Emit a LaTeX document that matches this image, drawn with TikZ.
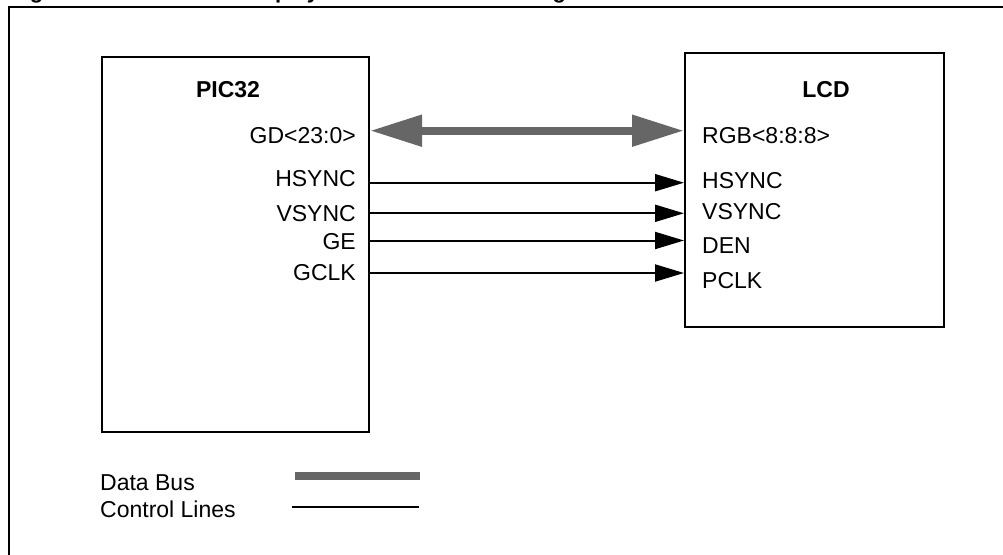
\documentclass[tikz,border=0pt]{standalone}
\usepackage{fontspec}
\setmainfont{Liberation Sans}
\usetikzlibrary{arrows.meta}
\definecolor{busgray}{HTML}{666666}
\tikzstyle{every node}=[inner sep=0pt, font=\fontsize{23}{27}\selectfont]
\tikzstyle{chip}=[draw, line width=2pt, rectangle]
\tikzstyle{chipname}=[font=\fontsize{23}{27}\selectfont\bfseries]
\tikzstyle{pinl}=[anchor=base east]
\tikzstyle{pinr}=[anchor=base west]
\tikzstyle{ctrl}=[line width=2pt, -{Triangle[length=29pt, width=17pt]}]
\tikzstyle{bus}=[busgray, line width=8pt, {Triangle[length=52pt, width=30pt]}-{Triangle[length=52pt, width=30pt]}]

\begin{document}
\begin{tikzpicture}[x=1pt, y=-1pt]
    \useasboundingbox (0,0) rectangle (1003,554);
    \clip (0,0) rectangle (1003,554);
% Title and frame (cut off)
    \node[anchor=base west, font=\fontsize{22}{26}\selectfont\bfseries] (title) at (10,-1.5) {Figure 43-2: TFT LCD Display Connection Block Diagram};
    \draw[line width=2.3pt] (1020,7.3) -- (9,7.3) -- (9,570);
% Boxes
    \node[chip, minimum width=267pt, minimum height=375pt] (pic) at (235.5,244.5) {};
    \node[chip, minimum width=259pt, minimum height=274pt] (lcd) at (814.5,190) {};
    \node[chipname] (picname) at (228,90) {PIC32};
    \node[chipname] (lcdname) at (826,90) {LCD};
% Pins
    \node[pinl] (pgd) at (356,143.2) {GD<23:0>};
    \node[pinl] (phs) at (356,186.5) {HSYNC};
    \node[pinl] (pvs) at (356,221.5) {VSYNC};
    \node[pinl] (pge) at (356,249.2) {GE};
    \node[pinl] (pclk) at (356,280.9) {GCLK};
    \node[pinr] (lrgb) at (702,143.2) {RGB<8:8:8>};
    \node[pinr] (lhs) at (702,188.2) {HSYNC};
    \node[pinr] (lvs) at (702,219.9) {VSYNC};
    \node[pinr] (lden) at (702,253.2) {DEN};
    \node[pinr] (lclk) at (702,288.2) {PCLK};
% Lines
    \coordinate (gd) at (0,130.7);
    \coordinate (hs) at (0,182.7);
    \coordinate (vs) at (0,213.3);
    \coordinate (ge) at (0,240.5);
    \coordinate (clk) at (0,273);
    \draw[bus] (pic.east |- gd) -- (lcd.west |- gd);
    \draw[ctrl] (pic.east |- hs) -- (lcd.west |- hs);
    \draw[ctrl] (pic.east |- vs) -- (lcd.west |- vs);
    \draw[ctrl] (pic.east |- ge) -- (lcd.west |- ge);
    \draw[ctrl] (pic.east |- clk) -- (lcd.west |- clk);
% Legend
    \node[pinr] (ldata) at (100,490.9) {Data Bus};
    \node[pinr] (lctrl) at (100,517.2) {Control Lines};
    \draw[busgray, line width=8pt] (295,476.2) -- (420,476.2);
    \draw[line width=2pt] (292,506.7) -- (419,506.7);
\end{tikzpicture}
\end{document}
